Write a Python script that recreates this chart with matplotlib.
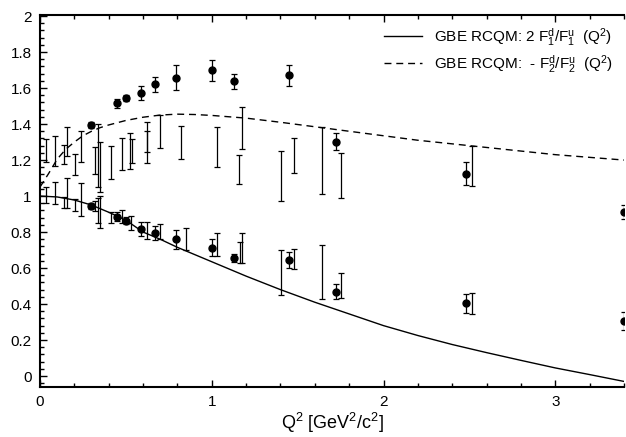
import numpy as np
import matplotlib.pyplot as plt
from matplotlib.ticker import MultipleLocator

plt.rcParams['font.family'] = ['Liberation Sans', 'DejaVu Sans']
plt.rcParams['mathtext.fontset'] = 'custom'
plt.rcParams['mathtext.rm'] = 'Liberation Sans'
plt.rcParams['mathtext.it'] = 'Liberation Sans'

# theory curves
q2_solid = [0.0, 0.1, 0.2, 0.3, 0.4, 0.5, 0.6, 0.7, 0.8, 0.9, 1.0, 1.2, 1.4, 1.6,
            1.8, 2.0, 2.2, 2.4, 2.6, 2.8, 3.0, 3.2, 3.4]
f1_ratio = [1.0, 0.995, 0.978, 0.95, 0.91, 0.866, 0.80, 0.76, 0.715, 0.675, 0.635,
            0.555, 0.48, 0.41, 0.345, 0.28, 0.225, 0.175, 0.13, 0.087, 0.045, 0.008, -0.03]

q2_dash = [0.0, 0.05, 0.1, 0.15, 0.2, 0.25, 0.3, 0.35, 0.4, 0.5, 0.6, 0.7, 0.8, 0.9,
           1.0, 1.2, 1.4, 1.6, 1.8, 2.0, 2.2, 2.4, 2.6, 2.8, 3.0, 3.2, 3.4]
f2_ratio = [1.05, 1.125, 1.205, 1.26, 1.30, 1.335, 1.36, 1.38, 1.395, 1.42, 1.438,
            1.45, 1.455, 1.453, 1.448, 1.433, 1.41, 1.385, 1.36, 1.335, 1.31, 1.29,
            1.27, 1.25, 1.23, 1.215, 1.2]

# data with markers
q2_pts = [0.297, 0.447, 0.499, 0.588, 0.668, 0.79, 1.0, 1.132, 1.45, 1.722, 2.481, 3.4]
up_pts = [1.394, 1.515, 1.546, 1.572, 1.62, 1.657, 1.698, 1.637, 1.67, 1.302, 1.124, 0.911]
up_err = [0.018, 0.027, 0.018, 0.04, 0.044, 0.07, 0.06, 0.04, 0.06, 0.046, 0.064, 0.04]
lo_pts = [0.944, 0.885, 0.863, 0.817, 0.794, 0.759, 0.713, 0.657, 0.643, 0.469, 0.404, 0.307]
lo_err = [0.018, 0.024, 0.02, 0.038, 0.037, 0.055, 0.047, 0.021, 0.044, 0.04, 0.052, 0.05]

# error bars without markers (upper group)
q2_up_bars = [0.037, 0.087, 0.141, 0.155, 0.202, 0.241, 0.322, 0.338, 0.351, 0.412,
              0.476, 0.524, 0.537, 0.621, 0.624, 0.699, 0.82, 1.033, 1.161, 1.176,
              1.404, 1.479, 1.644, 1.751, 2.514]
up_bar_lo = [1.187, 1.165, 1.176, 1.222, 1.117, 1.19, 1.12, 1.05, 1.025, 1.094,
             1.146, 1.148, 1.183, 1.243, 1.181, 1.268, 1.204, 1.163, 1.067, 1.259,
             0.972, 1.126, 1.011, 0.99, 1.056]
up_bar_hi = [1.315, 1.333, 1.285, 1.382, 1.232, 1.363, 1.27, 1.40, 1.30, 1.278,
             1.324, 1.352, 1.318, 1.411, 1.363, 1.45, 1.389, 1.385, 1.23, 1.496,
             1.248, 1.322, 1.382, 1.239, 1.278]

# error bars without markers (lower group)
q2_lo_bars = [0.037, 0.087, 0.141, 0.155, 0.202, 0.241, 0.322, 0.338, 0.351, 0.414,
              0.476, 0.528, 0.621, 0.699, 0.85, 1.03, 1.165, 1.178, 1.404, 1.479,
              1.644, 1.751, 2.514]
lo_bar_lo = [0.96, 0.954, 0.935, 0.931, 0.917, 0.889, 0.915, 0.85, 0.82, 0.848,
             0.852, 0.811, 0.761, 0.759, 0.70, 0.668, 0.63, 0.626, 0.45, 0.593,
             0.426, 0.435, 0.343]
lo_bar_hi = [1.05, 1.076, 0.996, 1.098, 0.983, 1.07, 0.97, 0.99, 1.0, 0.909,
             0.922, 0.891, 0.857, 0.843, 0.82, 0.793, 0.746, 0.794, 0.70, 0.704,
             0.728, 0.571, 0.459]

fig = plt.figure(figsize=(6.26, 4.37), dpi=100)
ax = fig.add_axes([40 / 626, 50 / 437, 584 / 626, 372 / 437])

ax.plot(q2_solid, f1_ratio, color='black', lw=1.0,
        label=r'GBE RCQM: 2 F$_1^{\rm d}$/F$_1^{\rm u}$  (Q$^2$)')
ax.plot(q2_dash, f2_ratio, color='black', lw=1.0, dashes=(5, 3.5),
        label=r'GBE RCQM:  - F$_2^{\rm d}$/F$_2^{\rm u}$  (Q$^2$)')

for lo, hi, xs in ((up_bar_lo, up_bar_hi, q2_up_bars), (lo_bar_lo, lo_bar_hi, q2_lo_bars)):
    lo = np.array(lo)
    hi = np.array(hi)
    mid = (lo + hi) / 2
    ax.errorbar(xs, mid, yerr=(hi - lo) / 2, fmt='none', ecolor='black',
                elinewidth=0.9, capsize=2, capthick=0.9)

ax.errorbar(q2_pts, up_pts, yerr=up_err, fmt='o', color='black', ms=5,
            elinewidth=0.9, capsize=2, capthick=0.9)
ax.errorbar(q2_pts, lo_pts, yerr=lo_err, fmt='o', color='black', ms=5,
            elinewidth=0.9, capsize=2, capthick=0.9)

ax.set_xlim(0, 3.4)
ax.set_ylim(-0.061, 2.006)
ax.xaxis.set_major_locator(MultipleLocator(1))
ax.xaxis.set_minor_locator(MultipleLocator(0.2))
ax.yaxis.set_major_locator(MultipleLocator(0.2))
ax.yaxis.set_minor_locator(MultipleLocator(0.04))
ax.set_yticks(np.arange(0, 2.01, 0.2))
ax.set_yticklabels(['0', '0.2', '0.4', '0.6', '0.8', '1', '1.2', '1.4', '1.6', '1.8', '2'])
ax.set_xticks([0, 1, 2, 3])
ax.set_xticklabels(['0', '1', '2', '3'])

ax.tick_params(which='both', direction='in', top=True, right=False, labelsize=11,
               width=1.0)
ax.tick_params(which='major', length=5, pad=6)
ax.tick_params(which='minor', length=3)
for side in ('left', 'bottom', 'top'):
    ax.spines[side].set_linewidth(1.5)
ax.spines['right'].set_visible(False)

ax.set_xlabel(r'Q$^2$ [GeV$^2$/c$^2$]', fontsize=13, labelpad=1)

leg = ax.legend(loc='upper right', frameon=False, fontsize=11, handlelength=2.5,
                handletextpad=0.8, borderaxespad=0.3, labelspacing=0.35)

fig.savefig('out.png', dpi=100)
